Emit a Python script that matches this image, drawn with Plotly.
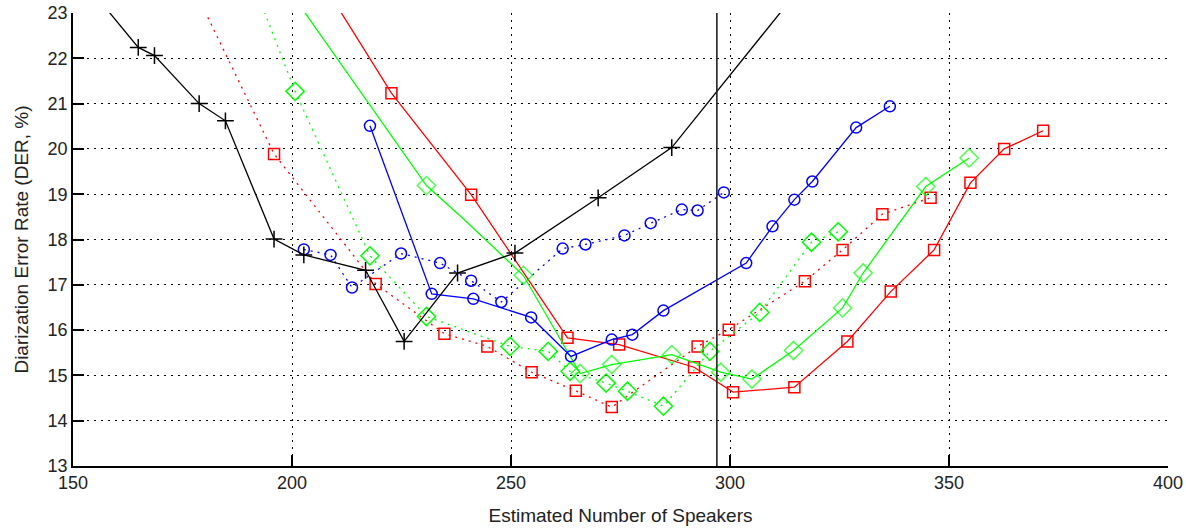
import plotly.graph_objects as go

# Diarization error rate vs. estimated number of speakers, per system
black_x = [155, 164.9, 168.6, 178.8, 184.8, 195.9, 202.7, 216.8, 225.6, 237.8, 250.9, 269.9, 286.7, 315]
black_y = [23.40, 22.24, 22.06, 21.00, 20.62, 18.01, 17.66, 17.32, 15.75, 17.26, 17.70, 18.92, 20.03, 23.43]

blue_solid_x = [217.8, 231.9, 241.4, 254.6, 263.7, 273.0, 277.7, 284.8, 303.7, 309.7, 314.7, 318.8, 328.8, 336.5]
blue_solid_y = [20.51, 16.80, 16.69, 16.28, 15.42, 15.79, 15.90, 16.43, 17.48, 18.29, 18.88, 19.28, 20.47, 20.94]

blue_dot_x = [202.7, 208.8, 213.7, 224.9, 233.8, 240.9, 247.8, 261.8, 267.0, 275.9, 281.9, 289.0, 292.6, 298.6]
blue_dot_y = [17.78, 17.66, 16.94, 17.69, 17.48, 17.09, 16.62, 17.80, 17.89, 18.09, 18.36, 18.66, 18.64, 19.04]

red_solid_x = [208, 222.7, 240.9, 262.9, 274.7, 291.8, 300.7, 314.7, 326.8, 336.7, 346.6, 354.9, 362.6, 371.5]
red_solid_y = [23.51, 21.23, 18.99, 15.83, 15.68, 15.18, 14.63, 14.74, 15.75, 16.85, 17.77, 19.25, 20.00, 20.40]

red_dot_x = [178, 195.9, 219.1, 234.8, 244.6, 254.7, 264.8, 273.0, 292.6, 299.7, 317.1, 325.7, 334.8, 345.8]
red_dot_y = [23.46, 19.89, 17.02, 15.92, 15.64, 15.07, 14.66, 14.30, 15.64, 16.01, 17.08, 17.77, 18.56, 18.92]

green_solid_x = [199, 230.7, 239.3, 252.8, 265.8, 273.0, 286.7, 297.9, 305.0, 314.5, 325.7, 330.4, 344.7, 354.6]
green_solid_y = [23.55, 19.19, 18.44, 17.21, 15.04, 15.24, 15.46, 15.07, 14.92, 15.55, 16.49, 17.26, 19.17, 19.80]
green_solid_marked = [True, True, False, True, True, True, True, True, True, True, True, True, True, True]

green_dot_x = [192, 200.7, 217.8, 230.7, 249.8, 258.5, 263.5, 271.7, 276.6, 284.8, 295.4, 306.8, 318.6, 324.7]
green_dot_y = [23.45, 21.27, 17.64, 16.30, 15.64, 15.53, 15.09, 14.83, 14.65, 14.32, 15.53, 16.39, 17.94, 18.17]

true_speakers = 297

x_ticks = [150, 200, 250, 300, 350, 400]
y_ticks = [13, 14, 15, 16, 17, 18, 19, 20, 21, 22, 23]

RED, GREEN, BLUE, BLACK = "#ff0000", "#00ff00", "#0000ff", "#000000"
TEXT = "#222222"
DOT = "2px,5px"

fig = go.Figure()


def add_series(x, y, color, symbol, dash, size=11, sizes=None):
    fig.add_trace(go.Scatter(
        x=x, y=y, mode="lines+markers",
        line=dict(color=color, width=1.3, dash=dash),
        marker=dict(symbol=symbol, size=sizes if sizes is not None else size,
                    color=color, line=dict(color=color, width=1.5)),
        showlegend=False,
    ))


add_series(red_dot_x, red_dot_y, RED, "square-open", DOT, size=11)
add_series(green_dot_x, green_dot_y, GREEN, "diamond-open", DOT, size=14)
add_series(blue_dot_x, blue_dot_y, BLUE, "circle-open", DOT, size=11)
add_series(red_solid_x, red_solid_y, RED, "square-open", "solid", size=11)
add_series(green_solid_x, green_solid_y, GREEN, "diamond-open", "solid",
           sizes=[14 if m else 0 for m in green_solid_marked])
add_series(blue_solid_x, blue_solid_y, BLUE, "circle-open", "solid", size=11)
add_series(black_x, black_y, BLACK, "cross-thin-open", "solid", size=12)

fig.add_shape(type="line", x0=true_speakers, x1=true_speakers, xref="x",
              y0=0, y1=1, yref="paper", line=dict(color=TEXT, width=1.6))

axis_common = dict(
    showline=True, linecolor=BLACK, linewidth=1.5, mirror=False,
    ticks="inside", ticklen=11, tickwidth=1.5, tickcolor=BLACK,
    showgrid=True, gridcolor=BLACK, gridwidth=1, griddash="1.5px,5.5px",
    zeroline=False, tickfont=dict(size=18, color=TEXT), automargin=False,
)

fig.update_xaxes(range=[150, 400], tickvals=x_ticks,
                 title=dict(text="Estimated Number of Speakers", standoff=16,
                            font=dict(size=19, color=TEXT)),
                 **axis_common)
fig.update_yaxes(range=[13, 23], tickvals=y_ticks,
                 title=dict(text="Diarization Error Rate (DER, %)", standoff=14,
                            font=dict(size=19, color=TEXT)),
                 **axis_common)

fig.update_layout(
    width=1186, height=529,
    margin=dict(l=73, r=18, t=13, b=63),
    plot_bgcolor="white", paper_bgcolor="white",
    font=dict(family="Liberation Sans, Arial, sans-serif", color=TEXT),
)

fig.write_html("out.html")
